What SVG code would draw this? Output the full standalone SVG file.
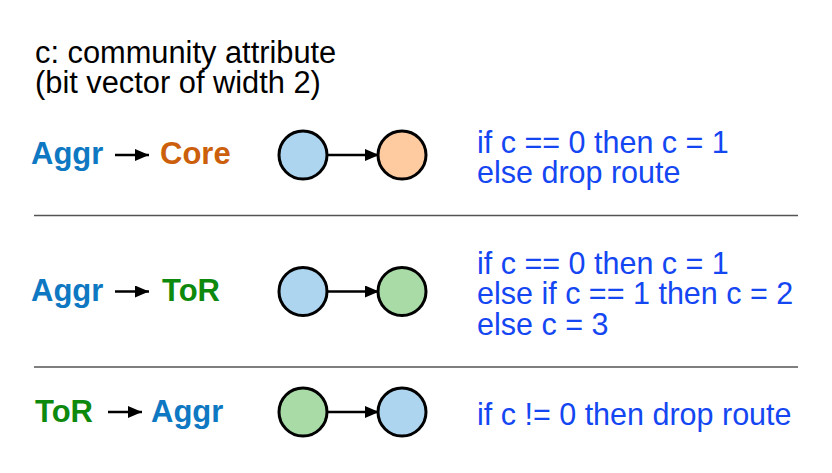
<svg xmlns="http://www.w3.org/2000/svg" width="832" height="473" viewBox="0 0 832 473">
<style>
text{font-family:"Liberation Sans",Arial,sans-serif;}
.title{font-size:30.8px;fill:#000;}
.lbl{font-size:31px;font-weight:bold;}
.aggr{fill:#0e78c2;}
.core{fill:#cc5f0c;}
.tor{fill:#0d890e;}
.rule{font-size:30.5px;fill:#1446f2;}
.node{stroke:#000;stroke-width:3;}
.blue{fill:#aed5f0;}
.orange{fill:#fecba0;}
.green{fill:#a9dba7;}
.edge{stroke:#000;stroke-width:2.4;fill:none;}
.sep{stroke:#555;stroke-width:1.5;}
</style>
<defs>
<marker id="ah" viewBox="0 0 14 12" refX="14" refY="6" markerWidth="14" markerHeight="12" orient="auto" markerUnits="userSpaceOnUse">
<path d="M0,0 L14,6 L0,12 z" fill="#000"/>
</marker>
</defs>
<rect width="832" height="473" fill="#fff"/>
<g id="title">
<text class="title" x="35" y="63">c: community attribute</text>
<text class="title" x="35" y="93">(bit vector of width 2)</text>
</g>
<g id="separators">
<line class="sep" x1="34" y1="215.5" x2="798" y2="215.5"/>
<line class="sep" x1="34" y1="367" x2="798" y2="367"/>
</g>
<g id="row1-label">
<text class="lbl aggr" x="31" y="164">Aggr</text>
<text class="lbl core" x="160" y="164">Core</text>
</g>
<g id="row2-label">
<text class="lbl aggr" x="31" y="301">Aggr</text>
<text class="lbl tor" x="162" y="301">ToR</text>
</g>
<g id="row3-label">
<text class="lbl tor" x="35" y="422">ToR</text>
<text class="lbl aggr" x="151" y="422">Aggr</text>
</g>
<g id="row1-a"><circle class="node blue" cx="303" cy="155" r="24"/></g>
<g id="row1-b"><circle class="node orange" cx="402" cy="155" r="24"/></g>
<g id="row2-a"><circle class="node blue" cx="303" cy="291.5" r="24"/></g>
<g id="row2-b"><circle class="node green" cx="402" cy="291.5" r="24"/></g>
<g id="row3-a"><circle class="node green" cx="303" cy="412" r="24"/></g>
<g id="row3-b"><circle class="node blue" cx="402" cy="412" r="24"/></g>
<g id="connectors">
<line class="edge" x1="115" y1="155" x2="149" y2="155" marker-end="url(#ah)"/>
<line class="edge" x1="115" y1="291.5" x2="149" y2="291.5" marker-end="url(#ah)"/>
<line class="edge" x1="108" y1="412" x2="142" y2="412" marker-end="url(#ah)"/>
<line class="edge" x1="328" y1="155" x2="379" y2="155" marker-end="url(#ah)"/>
<line class="edge" x1="328" y1="291.5" x2="379" y2="291.5" marker-end="url(#ah)"/>
<line class="edge" x1="328" y1="412" x2="379" y2="412" marker-end="url(#ah)"/>
</g>
<g id="row1-rule">
<text class="rule" x="477" y="153">if c == 0 then c = 1</text>
<text class="rule" x="477" y="183">else drop route</text>
</g>
<g id="row2-rule">
<text class="rule" x="477" y="274">if c == 0 then c = 1</text>
<text class="rule" x="477" y="304">else if c == 1 then c = 2</text>
<text class="rule" x="477" y="335">else c = 3</text>
</g>
<g id="row3-rule">
<text class="rule" x="477" y="425">if c != 0 then drop route</text>
</g>
</svg>
